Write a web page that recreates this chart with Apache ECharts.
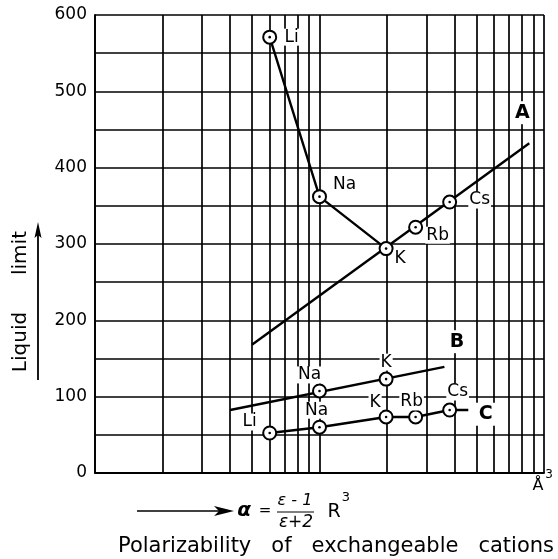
<!DOCTYPE html>
<html><head><meta charset="utf-8">
<script src="https://cdn.jsdelivr.net/npm/echarts@6/dist/echarts.min.js"></script>
<style>html,body{margin:0;padding:0;background:#fff}#c{width:558px;height:559px}</style>
</head><body><div id="c"></div>
<script>
// ---- data ----
const yTicks = [0, 100, 200, 300, 400, 500, 600];
const xMinorGrid = [2, 3, 4, 5, 6, 7, 8, 9, 20, 30, 40, 50, 60, 70, 80, 90];
const cations = ['Li', 'Na', 'K', 'Rb', 'Cs'];
const cationX = [6.0, 10, 19.8, 26.8, 38];
// curve through Li, Na, K (liquid limit)
const curveA_Y = [571, 362, 294, 322, 355];        // Li, Na, K, Rb, Cs
const curveTop = ['Li', 'Na', 'K'];                 // Li-Na-K polyline
const lineA_X = [5, 86];
const lineA_Y = [168, 432];
const lineB_X = [4, 36];
const lineB_Y = [82.5, 139];
const pointsB_names = ['Na', 'K'];
const pointsB_Y = [107.5, 123];
const pointsC_Y = [52.4, 60, 73.4, 73.4, 82.5];   // Li, Na, K, Rb, Cs
const lineC_endX = 46;
const lineC_endY = 82.5;
const curveLetters = ['A', 'B', 'C'];
const letterX = [80, 41, 55];
const letterY = [472, 172, 77];

// ---- styles / offsets (not data) ----
const FONT = 'DejaVu Sans';
const offA = {Li: [22, 0], Na: [25, -12], K: [14, 10], Rb: [22, 8], Cs: [30, -2]};
const offB = {Na: [-10, -16], K: [0, -17]};
const offC = {Li: [-20, -11], Na: [-3, -17], K: [-11, -14], Rb: [-4, -15], Cs: [8, -18]};

const idx = n => cations.indexOf(n);
function pts(names, ys, offs) {
  return names.map((n, i) => ({
    value: [cationX[idx(n)], ys[i]],
    label: {
      show: true, formatter: n, position: 'inside', offset: offs[n],
      color: '#000', opacity: 1, textBorderWidth: 0, fontFamily: FONT, fontSize: 17,
      backgroundColor: '#fff', padding: [0, 1]
    }
  }));
}
const markerStyle = {color: '#fff', borderColor: '#000', borderWidth: 2, opacity: 1};
const lineStyle = {color: '#000', width: 2.4};

const aPoints = pts(cations, curveA_Y, offA);
const bPoints = pts(pointsB_names, pointsB_Y, offB);
const cPoints = pts(cations, pointsC_Y, offC);
const allPts = aPoints.concat(bPoints, cPoints).map(p => p.value);

const chart = echarts.init(document.getElementById('c'), null, {renderer: 'canvas'});
const T = (x, y, text, font, extra) => Object.assign({type: 'text', x: x, y: y,
  style: {text: text, font: font, fill: '#000', textAlign: 'center', textVerticalAlign: 'middle'}}, extra || {});
chart.setOption({
  animation: false,
  backgroundColor: '#fff',
  grid: {left: 95, right: 14, top: 15, bottom: 86},
  xAxis: {
    type: 'log', logBase: 10, min: 1, max: 100, interval: 1,
    axisLine: {show: true, lineStyle: {color: '#000', width: 1.8}},
    axisTick: {show: false}, axisLabel: {show: false},
    splitLine: {show: true, lineStyle: {color: '#000', width: 1.7}}
  },
  yAxis: {
    type: 'value', min: 0, max: 600, interval: 50,
    axisLine: {show: true, lineStyle: {color: '#000', width: 1.8}},
    axisTick: {show: false},
    axisLabel: {
      color: '#000', fontFamily: FONT, fontSize: 17, margin: 8,
      formatter: v => yTicks.includes(v) ? String(v) : ''
    },
    splitLine: {show: true, lineStyle: {color: '#000', width: 1.7}}
  },
  series: [
    {
      type: 'line', data: [], z: 1, silent: true,
      markLine: {
        silent: true, symbol: 'none', animation: false,
        label: {show: false},
        lineStyle: {color: '#000', width: 1.7, type: 'solid', opacity: 1},
        data: xMinorGrid.map(v => ({xAxis: v}))
      }
    },
    {
      type: 'line', z: 3, symbol: 'none', lineStyle: lineStyle,
      data: curveTop.map(n => [cationX[idx(n)], curveA_Y[idx(n)]])
    },
    {
      type: 'line', z: 3, symbol: 'none', lineStyle: lineStyle,
      data: lineA_X.map((x, i) => [x, lineA_Y[i]])
    },
    {
      type: 'line', z: 3, symbol: 'none', lineStyle: lineStyle,
      data: lineB_X.map((x, i) => [x, lineB_Y[i]])
    },
    {
      type: 'line', z: 3, symbol: 'none', lineStyle: lineStyle,
      data: cations.map((n, i) => [cationX[i], pointsC_Y[i]]).concat([[lineC_endX, lineC_endY]])
    },
    {
      type: 'scatter', z: 5, symbol: 'circle', symbolSize: 13,
      itemStyle: markerStyle, data: aPoints.concat(bPoints, cPoints)
    },
    {
      type: 'scatter', z: 6, symbol: 'circle', symbolSize: 2.6,
      itemStyle: {color: '#000', opacity: 1}, data: allPts, silent: true
    },
    {
      type: 'scatter', z: 6, symbolSize: 0, itemStyle: {opacity: 1},
      data: curveLetters.map((l, i) => ({
        value: [letterX[i], letterY[i]],
        label: {
          show: true, formatter: l, position: 'inside', color: '#000', opacity: 1,
          textBorderWidth: 0, fontFamily: FONT, fontSize: 19, fontWeight: 'bold',
          backgroundColor: '#fff', padding: [2, 3]
        }
      }))
    }
  ],
  graphic: [
    T(21, 342, 'Liquid', '20px "DejaVu Sans"', {rotation: Math.PI / 2}),
    T(21, 253, 'limit', '20px "DejaVu Sans"', {rotation: Math.PI / 2}),
    {type: 'line', shape: {x1: 38, y1: 380, x2: 38, y2: 234}, style: {stroke: '#000', lineWidth: 1.8}},
    {type: 'polygon', shape: {points: [[38, 222], [34.5, 238], [38, 235], [41.5, 238]]}, style: {fill: '#000'}},

    {type: 'line', shape: {x1: 137, y1: 511, x2: 222, y2: 511}, style: {stroke: '#000', lineWidth: 1.6}},
    {type: 'polygon', shape: {points: [[234, 511], [214, 506], [219, 511], [214, 516]]}, style: {fill: '#000'}},
    T(244, 511, 'α', 'italic bold 20px "DejaVu Sans"'),
    T(265, 511, '=', '15px "DejaVu Sans"'),
    T(295, 501, 'ε - 1', 'italic 16px "DejaVu Sans"'),
    {type: 'line', shape: {x1: 277, y1: 512, x2: 314, y2: 512}, style: {stroke: '#000', lineWidth: 1}},
    T(296, 523, 'ε+2', 'italic 17px "DejaVu Sans"'),
    T(334, 512, 'R', '19px "DejaVu Sans"'),
    T(346, 498, '3', '13px "DejaVu Sans"'),
    T(538, 486, 'Å', '16px "DejaVu Sans"'),
    T(549, 475, '3', '12px "DejaVu Sans"'),
    T(336, 547, 'Polarizability   of   exchangeable   cations', '21px "DejaVu Sans"')
  ]
});
</script></body></html>
